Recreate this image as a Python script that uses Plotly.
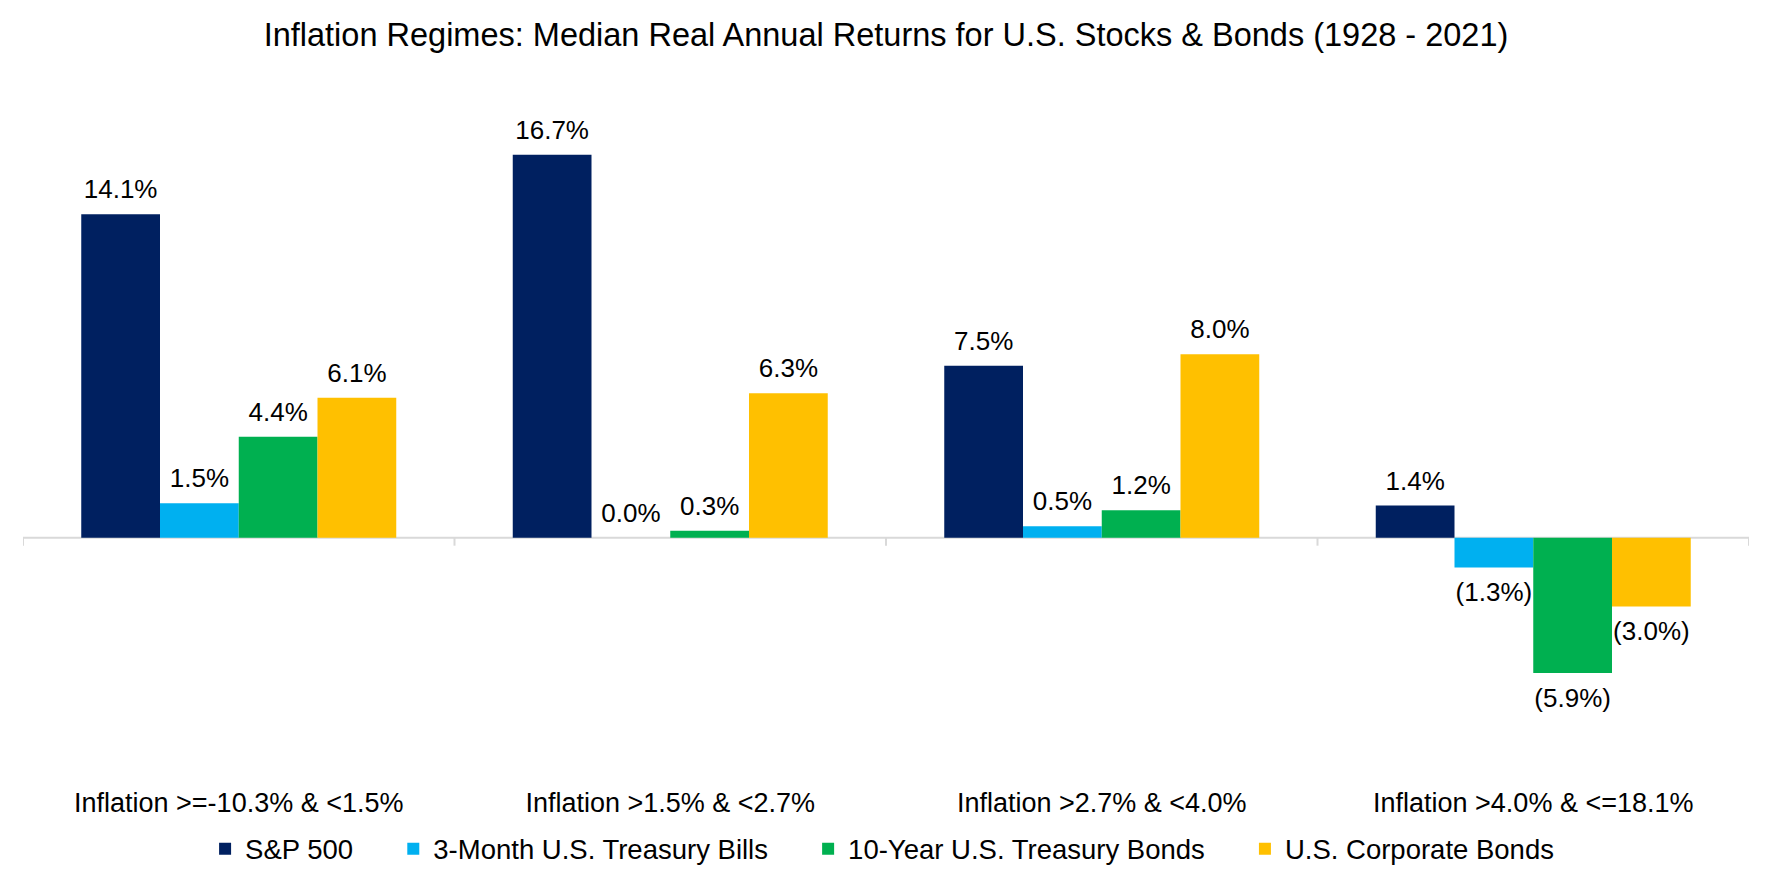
import plotly.graph_objects as go

categories = ["Inflation >=-10.3% & <1.5%", "Inflation >1.5% & <2.7%",
              "Inflation >2.7% & <4.0%", "Inflation >4.0% & <=18.1%"]
series_names = ["S&P 500", "3-Month U.S. Treasury Bills",
                "10-Year U.S. Treasury Bonds", "U.S. Corporate Bonds"]
sp500 = [14.1, 16.7, 7.5, 1.4]
tbills = [1.5, 0.0, 0.5, -1.3]
tbonds = [4.4, 0.3, 1.2, -5.9]
corp = [6.1, 6.3, 8.0, -3.0]
colors = ["#002060", "#00B0F0", "#00B050", "#FFC000"]

FONT = "Liberation Sans, Arial, sans-serif"
W, H = 1764, 877  # page body has an 8px margin
GAP = 0.27


def fmt(v):
    return f"({abs(v):.1f}%)" if v < 0 else f"{v:.1f}%"


fig = go.Figure()
all_series = [sp500, tbills, tbonds, corp]
for i, (name, vals, col) in enumerate(zip(series_names, all_series, colors)):
    pad = "\u2003\u00a0" if i < len(series_names) - 1 else ""
    fig.add_trace(go.Bar(
        x=categories, y=vals, name=name + pad,
        marker=dict(color=col, line=dict(width=0)),
        offsetgroup=f"g{i}", alignmentgroup="a",
        hoverinfo="skip",
    ))
for i, vals in enumerate(all_series):
    fig.add_trace(go.Scatter(
        x=categories, y=vals, mode="markers+text",
        text=[fmt(v) for v in vals],
        textposition=["top center" if v >= 0 else "bottom center" for v in vals],
        textfont=dict(family=FONT, size=26, color="#000000"),
        marker=dict(size=[13.6 if v >= 0 else 21.6 for v in vals], opacity=0,
                    color="rgba(0,0,0,0)"),
        offsetgroup=f"g{i}", alignmentgroup="a",
        showlegend=False, hoverinfo="skip", cliponaxis=False,
    ))

shapes = [dict(type="line", xref="x", yref="y", x0=-0.5, x1=3.5, y0=0, y1=0,
               line=dict(color="#D9D9D9", width=2), layer="below")]
for b in [-0.5, 0.5, 1.5, 2.5, 3.5]:
    shapes.append(dict(type="line", xref="x", yref="y", x0=b, x1=b, y0=0, y1=-0.35,
                       line=dict(color="#D9D9D9", width=2), layer="below"))

fig.update_layout(
    width=W, height=H,
    paper_bgcolor="white", plot_bgcolor="white",
    barmode="group", bargap=GAP, bargroupgap=0,
    scattermode="group", scattergap=GAP,
    margin=dict(l=15, r=23, t=71, b=116, pad=0),
    title=dict(text="Inflation Regimes: Median Real Annual Returns for U.S. Stocks & Bonds (1928 - 2021)",
               x=(15 + 1741) / 2 / W, xanchor="center", y=1 - 27 / H, yanchor="middle",
               font=dict(family=FONT, size=32.5, color="#000000")),
    font=dict(family=FONT, color="#000000"),
    xaxis=dict(showline=False, showgrid=False, ticks="", zeroline=False,
               tickfont=dict(family=FONT, size=27, color="#000000"),
               ticklabelstandoff=17, range=[-0.5, 3.5]),
    yaxis=dict(range=[-10, 20], visible=False, showgrid=False, zeroline=False),
    legend=dict(orientation="h", x=(15 + 1741) / 2 / W, xref="paper", xanchor="center",
                y=-0.119, yanchor="middle",
                font=dict(family=FONT, size=27.5, color="#000000"),
                traceorder="normal"),
    shapes=shapes,
    showlegend=True,
    hovermode=False,
)

fig.write_html("out.html")
